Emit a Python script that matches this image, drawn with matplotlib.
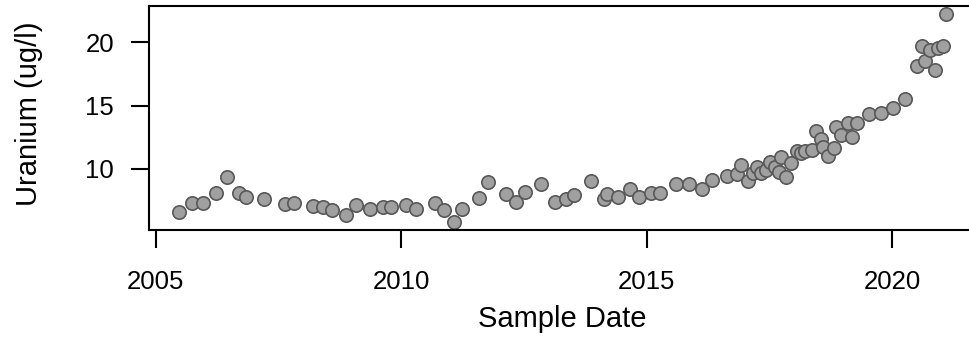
import matplotlib
matplotlib.use("Agg")
import matplotlib.pyplot as plt

plt.rcParams['font.family'] = ['Liberation Sans', 'DejaVu Sans']

# Sample dates as decimal years and measured uranium concentration (ug/l)
sample_year = [
    2005.48, 2005.73, 2005.96, 2006.23, 2006.46, 2006.70, 2006.83, 2007.20,
    2007.64, 2007.81, 2008.21, 2008.41, 2008.60, 2008.87, 2009.09, 2009.36,
    2009.63, 2009.80, 2010.10, 2010.31, 2010.70, 2010.87, 2011.08, 2011.25,
    2011.59, 2011.76, 2012.13, 2012.34, 2012.53, 2012.86, 2013.13, 2013.36,
    2013.52, 2013.87, 2014.13, 2014.19, 2014.42, 2014.67, 2014.84, 2015.09,
    2015.27, 2015.61, 2015.86, 2016.13, 2016.34, 2016.63, 2016.85, 2016.93,
    2017.06, 2017.16, 2017.26, 2017.34, 2017.44, 2017.52, 2017.62, 2017.70,
    2017.74, 2017.84, 2017.94, 2018.06, 2018.14, 2018.23, 2018.37, 2018.46,
    2018.56, 2018.59, 2018.69, 2018.81, 2018.87, 2018.96, 2019.10, 2019.18,
    2019.29, 2019.54, 2019.77, 2020.03, 2020.27, 2020.51, 2020.61, 2020.68,
    2020.78, 2020.87, 2020.93, 2021.04, 2021.10,
]
uranium = [
    6.61, 7.34, 7.34, 8.13, 9.39, 8.13, 7.77, 7.63,
    7.24, 7.29, 7.08, 6.98, 6.77, 6.37, 7.14, 6.82,
    7.03, 7.03, 7.16, 6.82, 7.29, 6.77, 5.84, 6.85,
    7.74, 8.95, 8.00, 7.40, 8.21, 8.82, 7.37, 7.66,
    7.97, 9.05, 7.63, 8.03, 7.77, 8.45, 7.77, 8.08,
    8.11, 8.79, 8.79, 8.45, 9.11, 9.45, 9.63, 10.34,
    9.05, 9.66, 10.18, 9.71, 9.92, 10.53, 10.18, 9.79,
    10.97, 9.35, 10.45, 11.44, 11.24, 11.44, 11.50, 13.00,
    12.39, 11.76, 11.03, 11.66, 13.31, 12.71, 13.60, 12.55,
    13.60, 14.31, 14.39, 14.83, 15.52, 18.15, 19.72, 18.52,
    19.38, 17.81, 19.52, 19.72, 22.22,
]
x_ticks = [2005, 2010, 2015, 2020]
y_ticks = [10, 15, 20]

W, H = 969, 339
fig = plt.figure(figsize=(W / 100, H / 100), dpi=100)
ax = fig.add_axes([148.6 / W, 109 / H, 828 / W, 224.3 / H])

ax.plot(sample_year, uranium, linestyle='none', marker='o', markersize=9.6,
        markerfacecolor='#a0a0a0', markeredgecolor='#585858',
        markeredgewidth=1.2, clip_on=False)

# 4% padding on each side of the data range
xr = max(sample_year) - min(sample_year)
yr = max(uranium) - min(uranium)
ax.set_xlim(min(sample_year) - 0.04 * xr, max(sample_year) + 0.04 * xr)
ax.set_ylim(min(uranium) - 0.04 * yr, max(uranium) + 0.04 * yr)

ax.set_xticks(x_ticks)
ax.set_yticks(y_ticks)
ax.set_xticklabels([str(t) for t in x_ticks])
ax.set_yticklabels([str(t) for t in y_ticks])

for s in ax.spines.values():
    s.set_linewidth(1.5)
    s.set_color('black')

ax.tick_params(axis='both', direction='out', length=13, width=1.5,
               labelsize=18.5, colors='black')
ax.tick_params(axis='x', pad=16)
ax.tick_params(axis='y', pad=12)

ax.set_xlabel('Sample Date', fontsize=21)
ax.xaxis.set_label_coords(562 / W, 1 - 326.7 / H, transform=fig.transFigure)
ax.xaxis.label.set_va('baseline')

ax.set_ylabel('Uranium (ug/l)', fontsize=21)
ax.yaxis.set_label_coords(29 / W, 1 - 114 / H, transform=fig.transFigure)
ax.yaxis.label.set_va('center')

fig.savefig('out.png', dpi=100)
